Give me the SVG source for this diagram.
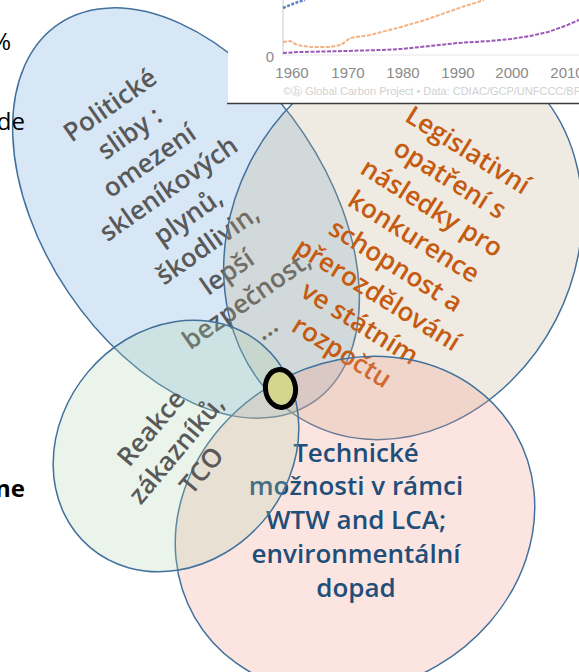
<svg xmlns="http://www.w3.org/2000/svg" width="579" height="672" viewBox="0 0 579 672">
<style>
.el{stroke:#41719C;stroke-width:1.5}
.t{font-family:"Open Sans","Noto Sans","DejaVu Sans",sans-serif;font-weight:600;font-size:26px;text-anchor:middle}
.gray{fill:#595959}
.orange{fill:#C55A11}
.blue{fill:#1F4E79}
.side{font-family:"Open Sans","Noto Sans",sans-serif;font-size:24px;fill:#000;text-anchor:end}
.ax{font-family:"Liberation Sans",Arial,sans-serif;font-size:15px;fill:#8a8a8a;text-anchor:middle}
</style>
<rect width="579" height="672" fill="#fff"/>
<g id="node-politicke">
<ellipse class="el" cx="0" cy="0" rx="142" ry="228" transform="translate(186,213) rotate(-33.9)" fill="#5B9BD5" fill-opacity="0.24"/>
<g class="t gray" transform="translate(110,105) rotate(-35)">
<text x="0" y="9">Politické</text>
<text x="0" y="43">sliby :</text>
<text x="0" y="77">omezení</text>
<text x="0" y="111">skleníkových</text>
<text x="0" y="145">plynů,</text>
<text x="0" y="179">škodlivin,</text>
<text x="0" y="213">lepší</text>
<text x="0" y="247">bezpečnost,</text>
<text x="0" y="281">…</text>
</g>
</g>
<g id="node-legislativni">
<ellipse class="el" cx="0" cy="0" rx="172" ry="205" transform="translate(403,241) rotate(27)" fill="#BFAF8B" fill-opacity="0.25"/>
<g class="t orange" transform="translate(468,150) rotate(32)">
<text x="0" y="9">Legislativní</text>
<text x="0" y="43">opatření s</text>
<text x="0" y="77">následky pro</text>
<text x="0" y="111">konkurence</text>
<text x="0" y="145">schopnost a</text>
<text x="0" y="179">přerozdělování</text>
<text x="0" y="213">ve státním</text>
<text x="0" y="247">rozpočtu</text>
</g>
</g>
<g id="node-technicke">
<ellipse class="el" cx="0" cy="0" rx="185" ry="163" transform="translate(355,525) rotate(-30)" fill="#F29683" fill-opacity="0.25"/>
<g class="t blue">
<text x="356" y="462">Technické</text>
<text x="356" y="495">možnosti v rámci</text>
<text x="356" y="529">WTW and LCA;</text>
<text x="356" y="563">environmentální</text>
<text x="356" y="597">dopad</text>
</g>
</g>
<g id="node-reakce">
<ellipse class="el" cx="0" cy="0" rx="133" ry="115" transform="translate(176,446) rotate(-49.7)" fill="#ABD3AB" fill-opacity="0.25"/>
<g class="t gray" transform="translate(151,428) rotate(-50)">
<text x="0" y="9">Reakce</text>
<text x="0" y="42">zákazníků,</text>
<text x="0" y="75">TCO</text>
</g>
</g>
<g id="node-marker">
<ellipse cx="0" cy="0" rx="15" ry="19" transform="translate(280.5,388.5) rotate(-8)" fill="#D4D68F" stroke="#000" stroke-width="5"/>
</g>
<g id="connectors"/>
<g id="node-chart">
<rect x="228" y="0" width="351" height="103" fill="#fff"/>
<line x1="283" y1="0" x2="283" y2="55" stroke="#c8c8c8" stroke-width="1"/>
<line x1="283" y1="55" x2="579" y2="55" stroke="#e6e6e6" stroke-width="1"/>
<polyline points="283,8 290,5 298,2 305,0" fill="none" stroke="#5b84c8" stroke-width="2.5" stroke-dasharray="3 1.5"/>
<polyline points="283,42 290,41 297,45 311,47 330,47 341,45 350,38 370,35 401,27 425,20 445,13 462,7 478,2 484,0" fill="none" stroke="#f4b183" stroke-width="2" stroke-dasharray="4 1.5"/>
<polyline points="283,53 300,52 345,51 380,50 401,49 430,46 458,43 490,41 511,39 530,36 548,32 565,26 579,20" fill="none" stroke="#9b59b6" stroke-width="2" stroke-dasharray="4 1.5"/>
<text class="ax" x="270" y="62">0</text>
<text class="ax" x="292" y="78">1960</text>
<text class="ax" x="348" y="78">1970</text>
<text class="ax" x="403" y="78">1980</text>
<text class="ax" x="458" y="78">1990</text>
<text class="ax" x="512" y="78">2000</text>
<text class="ax" x="567" y="78">2010</text>
<text x="283" y="95" font-family="Liberation Sans,Arial,sans-serif" font-size="11" fill="#d0d0d0">©ⓑ Global Carbon Project  •  Data: CDIAC/GCP/UNFCCC/BP</text>
<line x1="227" y1="103.5" x2="579" y2="103.5" stroke="#3c3c3c" stroke-width="1.5"/>
</g>
<g id="side-texts">
<text class="side" x="11" y="50">%</text>
<text class="side" x="25" y="130">de</text>
<text class="side" x="25" y="497" font-weight="700">ne</text>
</g>
</svg>
